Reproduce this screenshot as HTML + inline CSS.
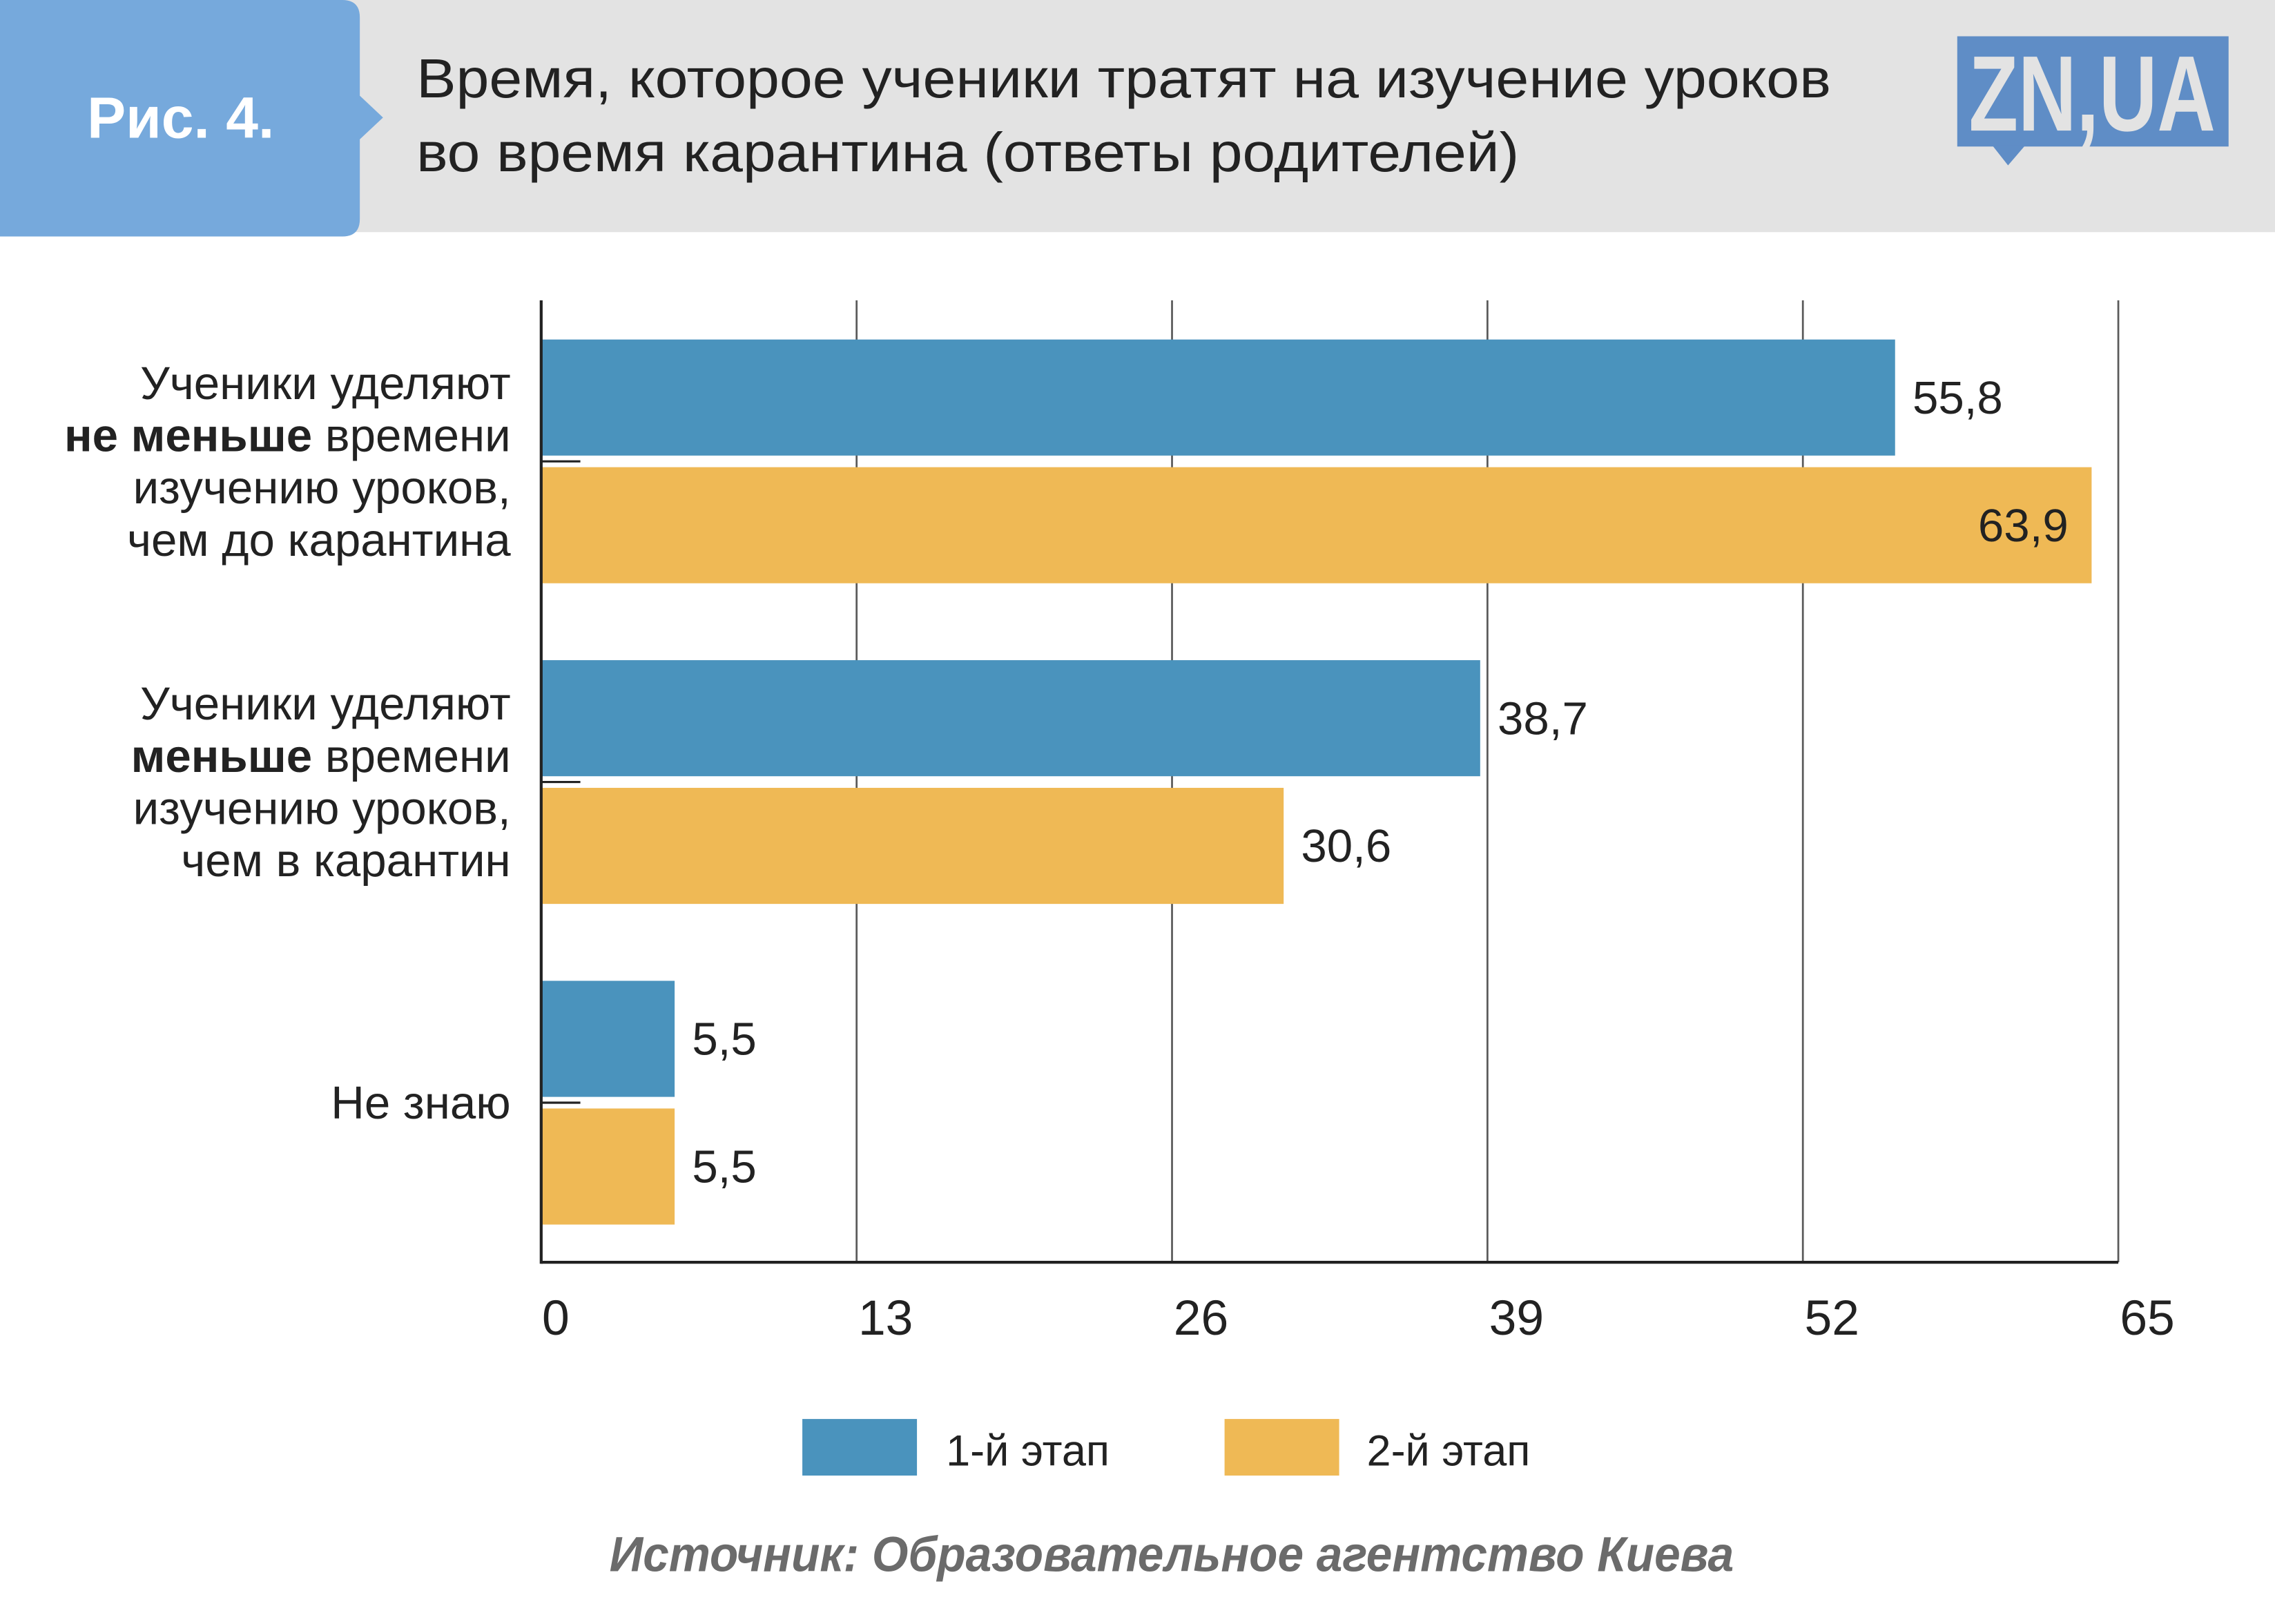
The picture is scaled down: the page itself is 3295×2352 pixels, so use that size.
<!DOCTYPE html>
<html><head><meta charset="utf-8"><style>
html,body{margin:0;padding:0;background:#fff;}
svg{display:block;font-family:"Liberation Sans","DejaVu Sans",sans-serif;}
</style></head><body>
<svg id="chart" width="3295" height="2352" viewBox="0 0 1568 1119.3" preserveAspectRatio="none" xmlns="http://www.w3.org/2000/svg">
<rect x="0" y="0" width="1568" height="1120" fill="#fff"/>
<rect x="235" y="0" width="1333" height="160" fill="#e3e3e3"/>
<path d="M0 0 H236 Q248 0 248 12 V66 L264 81 L248 96 V151 Q248 163 236 163 H0 Z" fill="#76a9dc"/>
<text x="60" y="95" font-size="40" font-weight="bold" fill="#fff">Рис. 4.</text>
<text font-size="38" fill="#222"><tspan x="287" y="67" textLength="975" lengthAdjust="spacingAndGlyphs">Время, которое ученики тратят на изучение уроков</tspan><tspan x="287" y="118" textLength="760" lengthAdjust="spacingAndGlyphs">во время карантина (ответы родителей)</tspan></text>
<g>
<rect x="1349" y="25" width="187" height="76" fill="#5f8dc6"/>
<path d="M1373 100 L1384 114 L1396 100 Z" fill="#5f8dc6"/>
<text x="1442" y="90" font-size="74" font-weight="bold" fill="#e3e3e3" text-anchor="middle" textLength="170" lengthAdjust="spacingAndGlyphs">ZN,UA</text>
</g>
<g id="plot"></g>
<g>
<rect x="553" y="978" width="79" height="39" fill="#4a93bd"/>
<text x="652" y="1010" font-size="30" fill="#222">1-й этап</text>
<rect x="844" y="978" width="79" height="39" fill="#efb955"/>
<text x="942" y="1010" font-size="30" fill="#222">2-й этап</text>
</g>
<text x="420" y="1083" font-size="34" font-weight="bold" font-style="italic" fill="#6b6b6b" textLength="775" lengthAdjust="spacingAndGlyphs">Источник: Образовательное агентство Киева</text>
</svg>
<script>
const categories=[
 [["Ученики уделяют",""],["не меньше"," времени"],["изучению уроков,",""],["чем до карантина",""]],
 [["Ученики уделяют",""],["меньше"," времени"],["изучению уроков,",""],["чем в карантин",""]],
 [["Не знаю",""]]
];
const stage1=[55.8,38.7,5.5];
const stage2=[63.9,30.6,5.5];
const ticks=[0,13,26,39,52,65];
const NS="http://www.w3.org/2000/svg";
const g=document.getElementById('plot');
const X0=373,X1=1460,MAX=65,YT=207,YB=870;
const xs=v=>X0+(v/MAX)*(X1-X0);
function mk(t,a,txt){const e=document.createElementNS(NS,t);for(const k in a)e.setAttribute(k,a[k]);if(txt!==undefined)e.textContent=txt;g.appendChild(e);return e;}
ticks.forEach((t,i)=>{
 if(t>0){const l=mk('line',{x1:xs(t),x2:xs(t),y1:YT,y2:YB,stroke:'#5a5a5a','stroke-width':1.3});
 
 }
 const tx=mk('text',{x:xs(t)+20-(i==0?10:0),y:920,'font-size':34,fill:'#222','text-anchor':'middle'},String(t));
 
 
});
const band=(YB-YT)/categories.length;
const fmt=v=>v.toFixed(1).replace('.',',');
categories.forEach((c,i)=>{
 const cy=YT+band*i+111;
 [[stage1[i],'#4a93bd',cy-84,'stage1'],[stage2[i],'#efb955',cy+4,'stage2']].forEach(([v,col,y,s])=>{
  const r=mk('rect',{x:X0,y:y,width:xs(v)-X0,height:80,fill:col});
  
  
  const inside=xs(v)>X1-60;
  const t=mk('text',{x:inside?xs(v)-16:xs(v)+12,y:y+51,'font-size':32,fill:'#222','text-anchor':inside?'end':'start'},fmt(v));
  
  
 });
 const tk=mk('line',{x1:X0,x2:X0+27,y1:cy,y2:cy,stroke:'#222','stroke-width':1.5});
 
 
 const n=c.length,start=cy+11-(n-1)*36/2;
 const t=mk('text',{x:352,'font-size':32,fill:'#222','text-anchor':'end'});
 
 
 c.forEach((ln,j)=>{
  const ts=document.createElementNS(NS,'tspan');ts.setAttribute('x',352);ts.setAttribute('y',start+j*36);
  if(ln[1]){const b=document.createElementNS(NS,'tspan');b.setAttribute('font-weight','bold');b.textContent=ln[0];ts.appendChild(b);ts.appendChild(document.createTextNode(ln[1]));}
  else ts.textContent=ln[0];
  t.appendChild(ts);
 });
});
const ya=mk('line',{x1:X0,x2:X0,y1:YT,y2:YB+1,stroke:'#222','stroke-width':2});


const xa=mk('line',{x1:X0,x2:X1,y1:YB,y2:YB,stroke:'#222','stroke-width':2});


</script>
</body></html>
